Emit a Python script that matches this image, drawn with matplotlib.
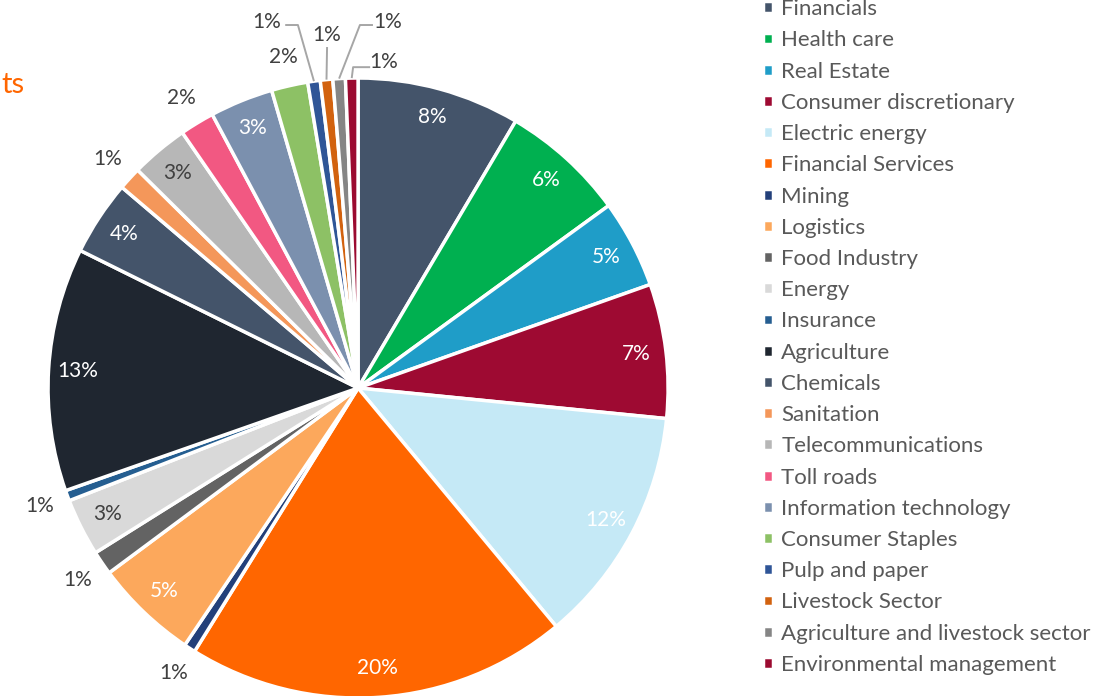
import matplotlib
matplotlib.use("Agg")
import matplotlib.pyplot as plt
import numpy as np

sectors = [
    "Financials", "Health care", "Real Estate", "Consumer discretionary",
    "Electric energy", "Financial Services", "Mining", "Logistics",
    "Food Industry", "Energy", "Insurance", "Agriculture", "Chemicals",
    "Sanitation", "Telecommunications", "Toll roads", "Information technology",
    "Consumer Staples", "Pulp and paper", "Livestock Sector",
    "Agriculture and livestock sector", "Environmental management",
]
# shares (percent)
shares = [8.5, 6.5, 4.6, 7.0, 12.4, 19.9, 0.6, 5.4, 1.25, 3.0, 0.55, 12.7,
          3.9, 1.2, 3.0, 1.8, 3.3, 1.9, 0.65, 0.65, 0.65, 0.65]
# rounded labels as printed on the chart
shown_pct = [8, 6, 5, 7, 12, 20, 1, 5, 1, 3, 1, 13, 4, 1, 3, 2, 3, 2, 1, 1, 1, 1]

colors = ["#44546A", "#00B050", "#1F9DC8", "#9E0A32", "#C5E9F6", "#FF6600",
          "#23407A", "#FCA85C", "#636363", "#D9D9D9", "#255E91", "#1F2630",
          "#44546A", "#F4975A", "#B7B7B7", "#F25882", "#7B90AE", "#8DC165",
          "#2F5597", "#D2620F", "#858585", "#9B0A30"]

# label placement per slice: inside, outside, or with a leader line
placement = ["in", "in", "in", "in", "in", "in", "out", "in", "out", "in", "out",
             "in", "in", "out", "in", "out", "in", "out", "lead", "lead", "lead", "lead"]
dark_text = {4: "white", 9: "#404040", 14: "#404040"}

# leader label layout (axes data units): text position, hook points
leaders = {
    18: ((-0.294, 1.181), [(-0.235, 1.171), (-0.194, 1.171)]),
    19: ((-0.100, 1.139), [(-0.100, 1.100)]),
    20: ((0.097, 1.181), [(0.048, 1.171), (0.006, 1.171)]),
    21: ((0.081, 1.052), [(0.039, 1.035), (-0.016, 1.035)]),
}

plt.rcParams["font.family"] = ["Lato", "DejaVu Sans"]

fig = plt.figure(figsize=(11.12, 6.96), dpi=100)
ax = fig.add_axes([0.0432, -0.0029, 0.5576, 0.8908])

wedges, _ = ax.pie(shares, colors=colors, startangle=90, counterclock=False,
                   radius=1, wedgeprops=dict(edgecolor="white", linewidth=2.5))
ax.set_aspect("auto")
ax.set_xlim(-1, 1)
ax.set_ylim(-1, 1)
ax.axis("off")

for i, (w, pct, mode) in enumerate(zip(wedges, shown_pct, placement)):
    ang = np.deg2rad((w.theta1 + w.theta2) / 2)
    cx, cy = np.cos(ang), np.sin(ang)
    txt = f"{pct}%"
    if mode == "in":
        ax.text(0.905 * cx, 0.905 * cy, txt, ha="center", va="center",
                fontsize=15, color=dark_text.get(i, "white"))
    elif mode == "out":
        ax.text(1.095 * cx, 1.095 * cy, txt, ha="center", va="center",
                fontsize=15, color="#404040")
    else:
        (tx, ty), hook = leaders[i]
        ax.text(tx, ty, txt, ha="center", va="center", fontsize=15, color="#404040")
        pts = hook + [(cx * 1.0, cy * 1.0)]
        ax.plot([p[0] for p in pts], [p[1] for p in pts], color="#A6A6A6",
                linewidth=1.4, clip_on=False, solid_capstyle="butt")

leg = ax.legend(wedges, sectors, loc="center left", bbox_to_anchor=(0.686, 0.5158),
                bbox_transform=fig.transFigure, frameon=False, fontsize=16,
                handlelength=0.45, handleheight=0.45, handletextpad=0.38,
                labelspacing=0.505, borderpad=0, borderaxespad=0)
for t in leg.get_texts():
    t.set_color("#595959")

fig.text(0.001, 1 - 85 / 696, "ts", fontsize=21, color="#FF6600", va="center")

fig.savefig("out.png", dpi=100)
